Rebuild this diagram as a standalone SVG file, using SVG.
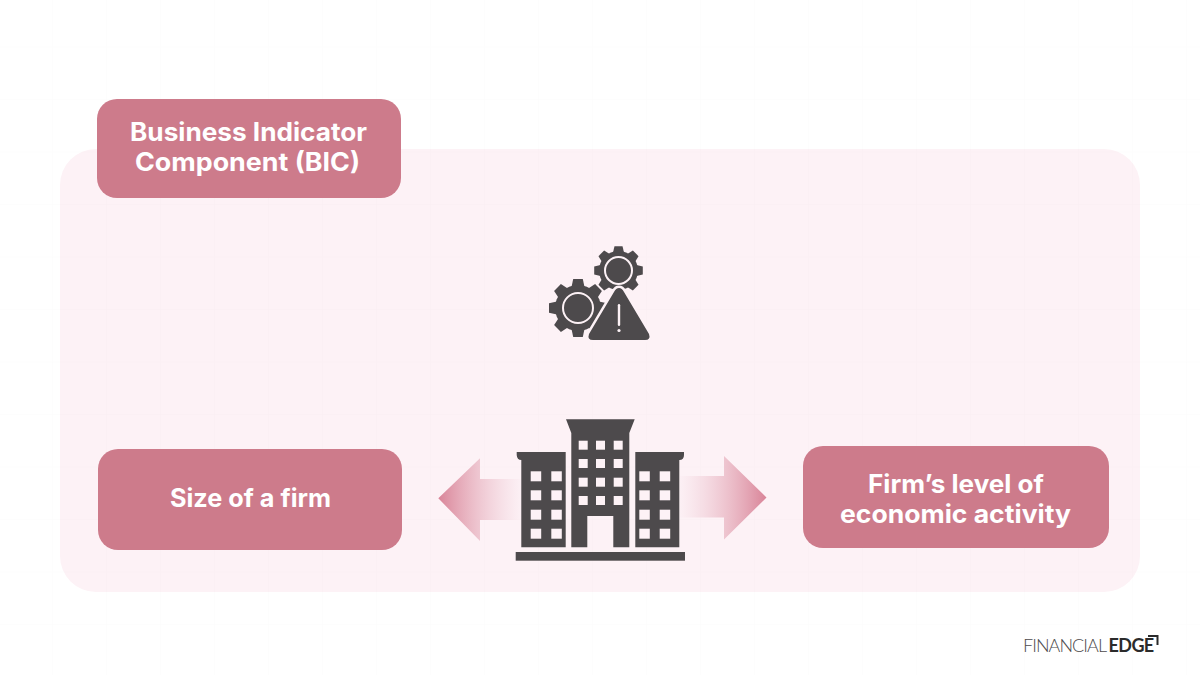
<svg xmlns="http://www.w3.org/2000/svg" width="1200" height="675" viewBox="0 0 1200 675">
<style>
.box{fill:#cd7b8b}
.lbl{font-family:"Inter","Open Sans","Liberation Sans",sans-serif;font-weight:700;font-size:25.5px;fill:#fff;text-anchor:middle}
.dk{fill:#4d4a4c}
.win{fill:#fdf2f6}
.logo{font-family:"Lato","Liberation Sans",sans-serif;font-size:18px}
</style>
<defs>
<pattern id="grid" width="54" height="52.5" patternUnits="userSpaceOnUse" x="-1" y="-5">
<path d="M54 0V52.5M0 52.5H54" fill="none" stroke="#000" stroke-opacity=".012" stroke-width="1"/>
</pattern>
<linearGradient id="gl" x1="0" x2="1" y1="0" y2="0"><stop offset="0" stop-color="#d98498"/><stop offset="1" stop-color="#fbeef3" stop-opacity=".5"/></linearGradient>
<linearGradient id="gr" x1="1" x2="0" y1="0" y2="0"><stop offset="0" stop-color="#d98498"/><stop offset="1" stop-color="#fbeef3" stop-opacity=".5"/></linearGradient>
<path id="t1" d="M-6.500 -21L-4.800 -29H4.800L6.500 -21Z" fill="#4d4a4c"/>
<path id="t2" d="M-5.500 -18L-4 -24.300H4L5.500 -18Z" fill="#4d4a4c"/>
</defs>
<rect width="1200" height="675" fill="#fff"/>
<rect id="panel" x="60" y="149" width="1080" height="443" rx="36" fill="#fdf2f6"/>
<rect width="1200" height="675" fill="url(#grid)"/>

<g id="node-bic">
<rect class="box" x="97" y="99" width="304" height="99" rx="20"/>
<text class="lbl" x="248.500" y="141" textLength="237" lengthAdjust="spacingAndGlyphs">Business Indicator</text>
<text class="lbl" x="247.500" y="171" textLength="225" lengthAdjust="spacingAndGlyphs">Component (BIC)</text>
</g>
<g id="node-size">
<rect class="box" x="98" y="449" width="304" height="101" rx="20"/>
<text class="lbl" x="250.500" y="507" textLength="161" lengthAdjust="spacingAndGlyphs">Size of a firm</text>
</g>
<g id="node-activity">
<rect class="box" x="803" y="446" width="306" height="102" rx="20"/>
<text class="lbl" x="956" y="493" textLength="176" lengthAdjust="spacingAndGlyphs">Firm’s level of</text>
<text class="lbl" x="955.500" y="523" textLength="231" lengthAdjust="spacingAndGlyphs">economic activity</text>
</g>

<g id="connectors">
<path d="M521 479H480V458.300L438.300 498.300L480 541V520H521Z" fill="url(#gl)"/>
<path d="M680 476H724V456L766.500 497.500L724 539.500V517.500H680Z" fill="url(#gr)"/>
</g>

<g id="node-building">
<path class="dk" d="M566 419.300H634.700L629.300 433V547.300H613.300V516H587.300V547.300H571.300V433Z"/>
<path class="dk" d="M516.700 452H565.700V547.300H521.300V460Q517 460 516.700 455Z"/>
<path class="dk" d="M635.300 452H684V455Q684 460 679.300 460V547.300H635.300Z"/>
<rect class="dk" x="515.700" y="552" width="169.300" height="8.700"/>
<g class="win">
<rect x="578.700" y="440.700" width="9" height="9"/><rect x="596" y="440.700" width="9" height="9"/><rect x="613.700" y="440.700" width="9" height="9"/>
<rect x="578.700" y="459" width="9" height="9"/><rect x="596" y="459" width="9" height="9"/><rect x="613.700" y="459" width="9" height="9"/>
<rect x="578.700" y="477.700" width="9" height="9"/><rect x="596" y="477.700" width="9" height="9"/><rect x="613.700" y="477.700" width="9" height="9"/>
<rect x="578.700" y="496" width="9" height="9"/><rect x="596" y="496" width="9" height="9"/><rect x="613.700" y="496" width="9" height="9"/>
<rect x="530.700" y="471.300" width="10.500" height="10"/><rect x="551.300" y="471.300" width="10.500" height="10"/>
<rect x="530.700" y="490.300" width="10.500" height="10"/><rect x="551.300" y="490.300" width="10.500" height="10"/>
<rect x="530.700" y="509.700" width="10.500" height="10"/><rect x="551.300" y="509.700" width="10.500" height="10"/>
<rect x="530.700" y="528.700" width="10.500" height="10"/><rect x="551.300" y="528.700" width="10.500" height="10"/>
<rect x="639.300" y="471.300" width="10.500" height="10"/><rect x="659.700" y="471.300" width="10.500" height="10"/>
<rect x="639.300" y="490.300" width="10.500" height="10"/><rect x="659.700" y="490.300" width="10.500" height="10"/>
<rect x="639.300" y="509.700" width="10.500" height="10"/><rect x="659.700" y="509.700" width="10.500" height="10"/>
<rect x="639.300" y="528.700" width="10.500" height="10"/><rect x="659.700" y="528.700" width="10.500" height="10"/>
</g>
</g>

<g id="node-risk">
<g transform="translate(578 308)">
<circle r="23" class="dk"/>
<use href="#t1"/><use href="#t1" transform="rotate(45)"/><use href="#t1" transform="rotate(90)"/><use href="#t1" transform="rotate(135)"/><use href="#t1" transform="rotate(180)"/><use href="#t1" transform="rotate(225)"/><use href="#t1" transform="rotate(270)"/><use href="#t1" transform="rotate(315)"/>
<circle r="15" fill="none" stroke="#fdf2f6" stroke-width="2"/>
</g>
<g transform="translate(618.500 270.500)">
<circle r="19.500" class="dk"/>
<use href="#t2"/><use href="#t2" transform="rotate(45)"/><use href="#t2" transform="rotate(90)"/><use href="#t2" transform="rotate(135)"/><use href="#t2" transform="rotate(180)"/><use href="#t2" transform="rotate(225)"/><use href="#t2" transform="rotate(270)"/><use href="#t2" transform="rotate(315)"/>
<circle r="13.500" fill="none" stroke="#fdf2f6" stroke-width="2"/>
</g>
<path d="M619 288Q622 288 624 292L649 334Q651 340 645 340H593Q587 340 589 334L614 292Q616 288 619 288Z" class="dk" stroke="#fdf2f6" stroke-width="5" paint-order="stroke"/>
<rect x="617.800" y="304" width="2.400" height="22" rx="1.200" fill="#fdf2f6"/>
<circle cx="619" cy="330.500" r="1.600" fill="#fdf2f6"/>
</g>

<g id="logo">
<text class="logo" x="1023" y="652"><tspan fill="#4d4a4c" font-weight="300" letter-spacing="-.95">FINANCIAL</tspan><tspan fill="#2b2b2b" font-weight="700" dx="2.500" letter-spacing="-.6">EDGE</tspan></text>
<path d="M1148 636H1157.500V645" fill="none" stroke="#2b2b2b" stroke-width="2"/>
</g>
</svg>
